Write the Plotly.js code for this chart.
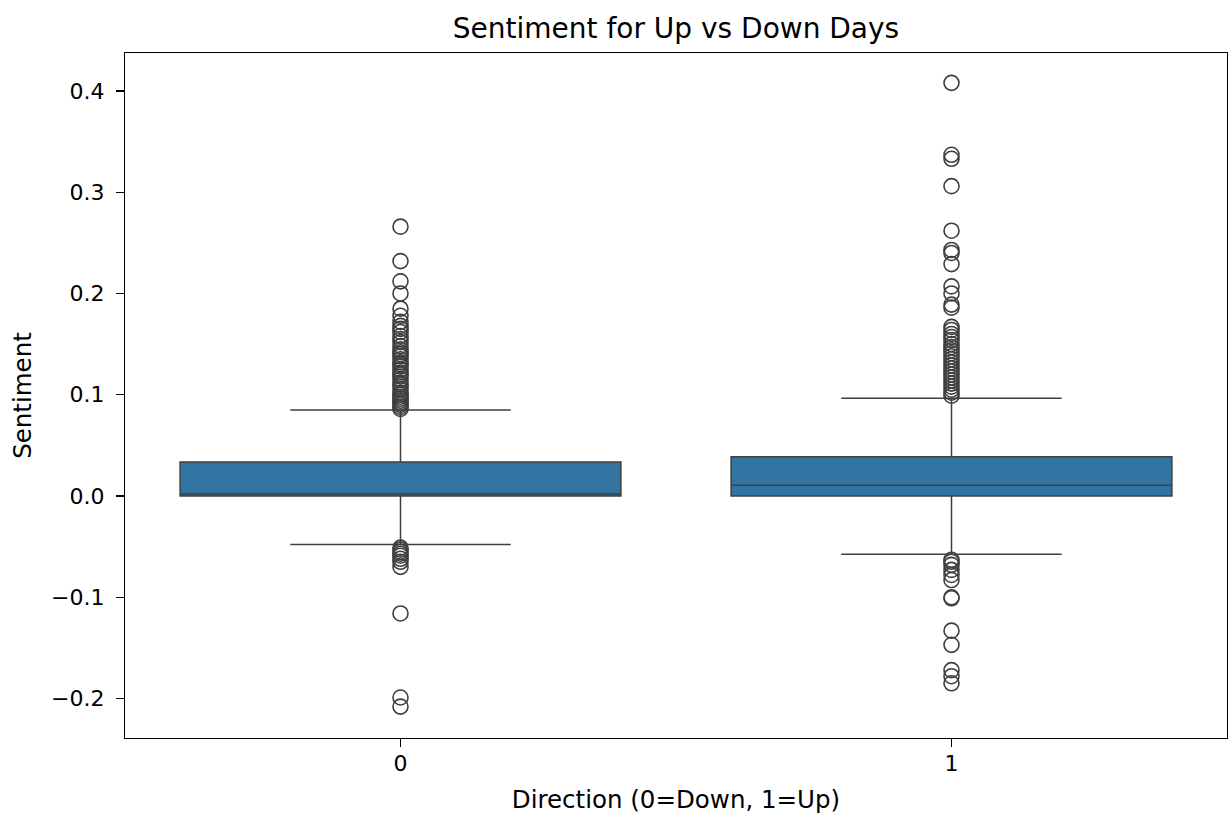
<!DOCTYPE html>
<html>
<head>
<meta charset="utf-8">
<script src="https://cdn.plot.ly/plotly-3.0.1.min.js"></script>
<style>html,body{margin:0;padding:0;background:#fff;}#chart{width:1232px;height:818px;}</style>
</head>
<body>
<div id="chart"></div>
<script>
// Categories
const categories = ['0', '1'];
// Box statistics
const q1Values = [0.000, 0.000];
const medianValues = [0.002, 0.0105];
const q3Values = [0.0335, 0.0388];
const lowerFences = [-0.048, -0.0575];
const upperFences = [0.085, 0.0965];
// Outliers
const outliersDown = [0.266, 0.232, 0.212, 0.200, 0.185, 0.178, 0.172, 0.168, 0.165, 0.162, 0.158, 0.155, 0.152, 0.148, 0.145, 0.142, 0.140, 0.138, 0.135, 0.132, 0.130, 0.128, 0.125, 0.122, 0.120, 0.118, 0.115, 0.112, 0.110, 0.108, 0.105, 0.102, 0.100, 0.098, 0.096, 0.094, 0.092, 0.090, 0.088, 0.086,
  -0.051, -0.053, -0.055, -0.057, -0.059, -0.062, -0.065, -0.070, -0.116, -0.199, -0.208];
const outliersUp = [0.408, 0.337, 0.333, 0.306, 0.262, 0.243, 0.240, 0.229, 0.207, 0.200, 0.189, 0.186, 0.167, 0.164, 0.160, 0.157, 0.154, 0.150, 0.147, 0.144, 0.141, 0.138, 0.135, 0.132, 0.129, 0.126, 0.123, 0.120, 0.117, 0.114, 0.111, 0.108, 0.105, 0.102, 0.099,
  -0.063, -0.065, -0.068, -0.073, -0.078, -0.083, -0.100, -0.101, -0.133, -0.147, -0.172, -0.178, -0.185];
const tickVals = [-0.2, -0.1, 0.0, 0.1, 0.2, 0.3, 0.4];
const tickText = ['\u22120.2', '\u22120.1', '0.0', '0.1', '0.2', '0.3', '0.4'];

const edge = '#3f3f3f';
const traces = [
  {
    type: 'box',
    x: categories,
    q1: q1Values,
    median: medianValues,
    q3: q3Values,
    lowerfence: lowerFences,
    upperfence: upperFences,
    width: 0.8,
    whiskerwidth: 0.5,
    fillcolor: '#3274a1',
    line: {color: edge, width: 1.5},
    boxpoints: false,
    hoverinfo: 'skip',
    showlegend: false
  },
  {
    type: 'scatter',
    mode: 'markers',
    x: outliersDown.map(() => categories[0]),
    y: outliersDown,
    marker: {symbol: 'circle-open', size: 15, color: edge, line: {width: 1.6, color: edge}},
    showlegend: false,
    hoverinfo: 'y'
  },
  {
    type: 'scatter',
    mode: 'markers',
    x: outliersUp.map(() => categories[1]),
    y: outliersUp,
    marker: {symbol: 'circle-open', size: 15, color: edge, line: {width: 1.6, color: edge}},
    showlegend: false,
    hoverinfo: 'y'
  }
];

const layout = {
  width: 1232,
  height: 818,
  margin: {l: 125, r: 5, t: 53, b: 80},
  paper_bgcolor: '#ffffff',
  plot_bgcolor: '#ffffff',
  font: {family: 'DejaVu Sans', size: 22, color: '#000'},
  title: {text: 'Sentiment for Up vs Down Days', font: {family: 'DejaVu Sans', size: 28, color: '#000'}, xref: 'paper', x: 0.5, xanchor: 'center', yref: 'container', y: 0.966, yanchor: 'middle'},
  xaxis: {
    type: 'category',
    range: [-0.5, 1.5],
    showgrid: false,
    zeroline: false,
    showline: true,
    mirror: true,
    linecolor: '#000',
    linewidth: 1.2,
    ticks: 'outside',
    ticklen: 8,
    tickwidth: 1.2,
    tickcolor: '#000',
    ticklabelstandoff: -3,
    tickfont: {size: 22},
    title: {text: 'Direction (0=Down, 1=Up)', font: {size: 24.5}, standoff: 16}
  },
  yaxis: {
    range: [-0.239, 0.4375],
    tickvals: tickVals,
    ticktext: tickText,
    showgrid: false,
    zeroline: false,
    showline: true,
    mirror: true,
    linecolor: '#000',
    linewidth: 1.2,
    ticks: 'outside',
    ticklen: 8,
    tickwidth: 1.2,
    tickcolor: '#000',
    ticklabelstandoff: 7,
    tickfont: {size: 22},
    title: {text: 'Sentiment', font: {size: 24.5}, standoff: 12}
  }
};

Plotly.newPlot('chart', traces, layout, {displayModeBar: false, staticPlot: true});
</script>
</body>
</html>
